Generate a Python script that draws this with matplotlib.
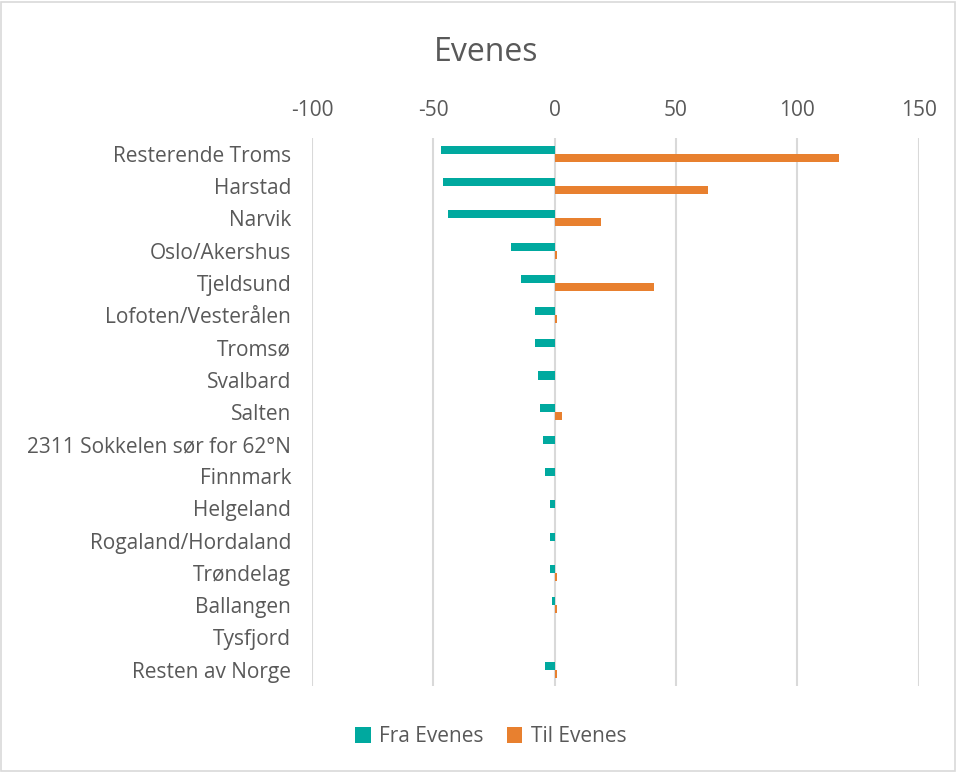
import numpy as np
import matplotlib
matplotlib.use("Agg")
import matplotlib.pyplot as plt
from matplotlib.patches import Rectangle

plt.rcParams['font.family'] = ['Open Sans', 'DejaVu Sans']

# data
categories = ["Resterende Troms", "Harstad", "Narvik", "Oslo/Akershus", "Tjeldsund",
              "Lofoten/Vesterålen", "Tromsø", "Svalbard", "Salten",
              "2311 Sokkelen sør for 62°N", "Finnmark", "Helgeland",
              "Rogaland/Hordaland", "Trøndelag", "Ballangen", "Tysfjord",
              "Resten av Norge"]
fra_evenes = [-47, -46, -44, -18, -14, -8, -8, -7, -6, -5, -4, -2, -2, -2, -1, 0, -4]
til_evenes = [117, 63, 19, 1, 41, 1, 0, 0, 3, 0, 0, 0, 0, 1, 1, 0, 1]
ticks = [-100, -50, 0, 50, 100, 150]

teal = '#00A99F'
orange = '#E8802F'
grey_txt = '#595959'

fig = plt.figure(figsize=(9.57, 7.74), dpi=100)
ax = fig.add_axes([0.326, 0.114, 0.634, 0.708])

y = np.arange(len(categories))
h = 0.25
ax.barh(y - h / 2, fra_evenes, height=h, color=teal, label="Fra Evenes", zorder=3)
ax.barh(y + h / 2, til_evenes, height=h, color=orange, label="Til Evenes", zorder=3)

ax.set_xlim(-100, 150)
ax.set_ylim(len(categories) - 0.5, -0.5)
ax.set_xticks(ticks)
ax.set_xticklabels([str(t) for t in ticks])
ax.set_yticks(y)
ax.set_yticklabels(categories)
ax.xaxis.tick_top()
ax.tick_params(axis='x', length=0, pad=12, labelsize=15, labelcolor=grey_txt)
ax.tick_params(axis='y', length=0, pad=15, labelsize=15, labelcolor=grey_txt)
ax.grid(axis='x', color='#D9D9D9', linewidth=1.5, zorder=0)
for s in ax.spines.values():
    s.set_visible(False)

fig.text(0.508, 0.932, "Evenes", ha='center', va='center', fontsize=23, color=grey_txt)

fig.legend(loc='center', bbox_to_anchor=(0.513, 0.048), ncol=2, frameon=False,
           fontsize=15, handlelength=0.75, handleheight=0.75, columnspacing=1.1,
           handletextpad=0.4, labelcolor=grey_txt)

fig.patches.append(Rectangle((0.001, 0.004), 0.997, 0.994, transform=fig.transFigure,
                             fill=False, edgecolor='#D9D9D9', linewidth=1.2))

fig.savefig("out.png", dpi=100)
